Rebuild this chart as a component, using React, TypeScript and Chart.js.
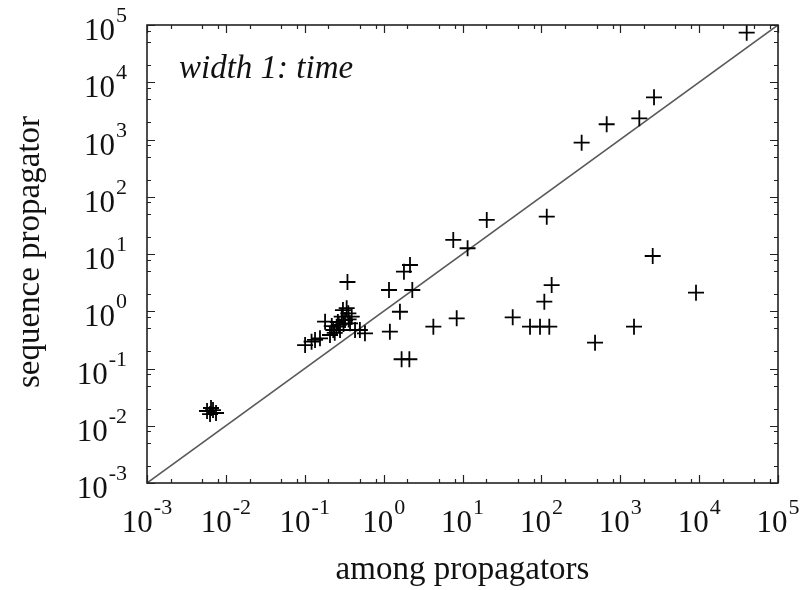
import React, { useEffect, useRef } from 'react';
import { Chart, registerables } from 'chart.js';

Chart.register(...registerables);

// ---- data ----
const amongPropagators = [
  40100, 2680, 1745, 673, 324, 20.3, 117, 7.64, 11.6, 2.16, 1.81, 1.17, 2.31, 1.61, 1.2,
  4.27, 8.44, 43.3, 71.8, 96.1, 126, 109, 135, 479, 1494, 2580, 9130, 1.69, 2.12, 0.348,
  0.101, 0.122, 0.135, 0.156, 0.181, 0.209, 0.23, 0.254, 0.294, 0.324, 0.34, 0.357, 0.375,
  0.394, 0.434, 0.5, 0.58, 0.28, 0.263, 0.305, 0.24, 0.27, 0.31, 0.36, 0.22,
  0.00577, 0.0063, 0.00687, 0.0075, 0.00648,
];
const sequencePropagator = [
  73400, 5460, 2345, 1845, 880, 39.3, 44.8, 17.6, 12.6, 6.43, 4.91, 2.35, 2.35, 0.98, 0.44,
  0.537, 0.753, 0.783, 0.537, 0.537, 0.537, 1.47, 2.87, 0.282, 0.537, 9.23, 2.11, 0.145, 0.145, 3.24,
  0.257, 0.294, 0.315, 0.337, 0.657, 0.385, 0.47, 0.537, 0.804, 0.703, 1.13, 0.92, 0.616,
  0.804, 0.47, 0.47, 0.412, 0.47, 0.649, 1.05, 0.42, 0.58, 0.6, 0.72, 0.55,
  0.0181, 0.016, 0.0188, 0.0167, 0.0204,
];
const diagonalEnds = [0.001, 100000];
const decadeExponents = [-3, -2, -1, 0, 1, 2, 3, 4, 5];
const minorFactors = [2, 5, 8];
const xTitle = 'among propagators';
const yTitle = 'sequence propagator';
const annotationText = 'width 1: time';

const FONT = '"Liberation Serif", "Times New Roman", serif';

const framePlugin = {
  id: 'gnuframe',
  afterDraw(chart: any) {
    const { ctx, chartArea: a, scales } = chart;
    const xs = scales.x;
    const ys = scales.y;
    ctx.save();

    // ticks (inward, mirrored)
    ctx.strokeStyle = '#222';
    ctx.lineWidth = 1.2;
    const tickX = (v: number, len: number) => {
      const px = Math.round(xs.getPixelForValue(v)) + 0.5;
      ctx.beginPath();
      ctx.moveTo(px, a.bottom);
      ctx.lineTo(px, a.bottom - len);
      ctx.moveTo(px, a.top);
      ctx.lineTo(px, a.top + len);
      ctx.stroke();
    };
    const tickY = (v: number, len: number) => {
      const py = Math.round(ys.getPixelForValue(v)) + 0.5;
      ctx.beginPath();
      ctx.moveTo(a.left, py);
      ctx.lineTo(a.left + len, py);
      ctx.moveTo(a.right, py);
      ctx.lineTo(a.right - len, py);
      ctx.stroke();
    };
    decadeExponents.forEach((d, i) => {
      const v = Math.pow(10, d);
      tickX(v, 8);
      tickY(v, 8);
      if (i < decadeExponents.length - 1) {
        minorFactors.forEach((f) => {
          tickX(v * f, 4);
          tickY(v * f, 4);
        });
      }
    });

    // frame
    ctx.strokeStyle = '#222';
    ctx.lineWidth = 1.6;
    ctx.strokeRect(a.left, a.top, a.right - a.left, a.bottom - a.top);

    // tick labels with superscripts
    ctx.fillStyle = '#111';
    ctx.textBaseline = 'alphabetic';
    ctx.textAlign = 'left';
    const baseFont = `31px ${FONT}`;
    const supFont = `22px ${FONT}`;
    const measure = (exp: string) => {
      ctx.font = baseFont;
      const w1 = ctx.measureText('10').width;
      ctx.font = supFont;
      const w2 = ctx.measureText(exp).width;
      return { w1, w2, total: w1 + w2 + 1 };
    };
    const drawPow = (exp: string, left: number, baseline: number) => {
      const m = measure(exp);
      ctx.font = baseFont;
      ctx.fillText('10', left, baseline);
      ctx.font = supFont;
      ctx.fillText(exp, left + m.w1 + 1, baseline - 18);
    };
    decadeExponents.forEach((d) => {
      const exp = String(d);
      const v = Math.pow(10, d);
      const m = measure(exp);
      // x axis
      const px = xs.getPixelForValue(v);
      drawPow(exp, px - m.total / 2, 532);
      // y axis
      const py = ys.getPixelForValue(v);
      drawPow(exp, 127 - m.total, py + 15);
    });

    // axis titles
    ctx.font = `33px ${FONT}`;
    ctx.textAlign = 'center';
    ctx.fillText(xTitle, (a.left + a.right) / 2, 579);
    ctx.save();
    ctx.translate(39, (a.top + a.bottom) / 2 - 2);
    ctx.rotate(-Math.PI / 2);
    ctx.fillText(yTitle, 0, 0);
    ctx.restore();

    // annotation
    ctx.font = `italic 33px ${FONT}`;
    ctx.textAlign = 'left';
    ctx.fillText(annotationText, 179, 78);

    ctx.restore();
  },
};

export default function App() {
  const canvasRef = useRef<HTMLCanvasElement | null>(null);

  useEffect(() => {
    const canvas = canvasRef.current;
    if (!canvas) return;
    const points = amongPropagators.map((x, i) => ({ x, y: sequencePropagator[i] }));
    const diag = diagonalEnds.map((v) => ({ x: v, y: v }));
    const chart = new Chart(canvas, {
      type: 'scatter',
      data: {
        datasets: [
          {
            type: 'line',
            data: diag,
            borderColor: '#5a5a5a',
            borderWidth: 1.6,
            pointRadius: 0,
            fill: false,
            order: 2,
          } as any,
          {
            data: points,
            pointStyle: 'cross',
            pointRadius: 8,
            pointBorderWidth: 1.8,
            borderColor: '#000',
            backgroundColor: '#000',
            showLine: false,
            order: 1,
          },
        ],
      },
      options: {
        responsive: false,
        animation: false,
        devicePixelRatio: 1,
        layout: { padding: { left: 147, top: 25, right: 28, bottom: 107 } },
        plugins: {
          legend: { display: false },
          tooltip: { enabled: false },
          title: { display: false },
        },
        scales: {
          x: { type: 'logarithmic', min: 0.001, max: 100000, display: false },
          y: { type: 'logarithmic', min: 0.001, max: 100000, display: false },
        },
      },
      plugins: [framePlugin],
    });
    return () => chart.destroy();
  }, []);

  return (
    <div style={{ position: 'fixed', left: 0, top: 0, width: 806, height: 590, background: '#fff' }}>
      <canvas ref={canvasRef} width={806} height={590} style={{ display: 'block', width: 806, height: 590 }} />
    </div>
  );
}
